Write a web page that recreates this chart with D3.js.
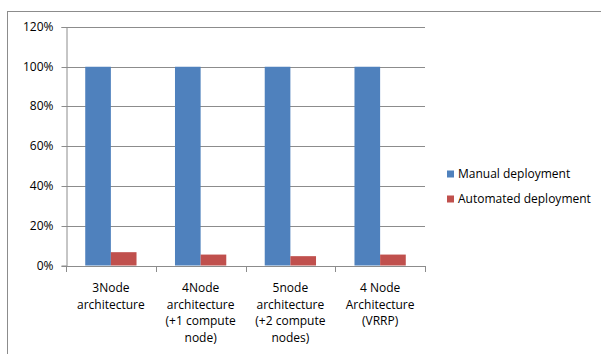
<!DOCTYPE html>
<html>
<head>
<meta charset="utf-8">
<script src="https://cdn.jsdelivr.net/npm/d3@7"></script>
<style>
  body { margin: 0; background: #fff; }
  text { font-family: 'Open Sans', sans-serif; fill: #000; }
</style>
</head>
<body>
<div id="chart"></div>
<script>
const categories = [
  ['3Node', 'architecture'],
  ['4Node', 'architecture', '(+1 compute', 'node)'],
  ['5node', 'architecture', '(+2 compute', 'nodes)'],
  ['4 Node', 'Architecture', '(VRRP)']
]
const seriesNames = ['Manual deployment', 'Automated deployment']
const manual = [1.0, 1.0, 1.0, 1.0]
const automated = [0.067, 0.055, 0.047, 0.055]
const yTicks = [0, 0.2, 0.4, 0.6, 0.8, 1.0, 1.2]

const colors = ['#4f81bd', '#c0504d']
const width = 601
const height = 354
const plot = { left: 66, right: 425, top: 27, bottom: 265.5 }

const svg = d3
  .select('#chart')
  .append('svg')
  .attr('width', width)
  .attr('height', height)

// outer chart border (cropped on right and bottom)
svg
  .append('rect')
  .attr('x', 7.5)
  .attr('y', 11.5)
  .attr('width', 700)
  .attr('height', 500)
  .attr('fill', 'none')
  .attr('stroke', '#8c8c8c')

const y = d3.scaleLinear().domain([0, 1.2]).range([plot.bottom, plot.top])
const x = d3
  .scaleBand()
  .domain(d3.range(categories.length))
  .range([plot.left, plot.right])
  .paddingInner(0)
  .paddingOuter(0)

const barW = x.bandwidth() / 3.5
const offset = barW * 0.75

// gridlines
svg
  .selectAll('.grid')
  .data(yTicks.slice(1))
  .enter()
  .append('line')
  .attr('class', 'grid')
  .attr('x1', plot.left)
  .attr('x2', plot.right)
  .attr('y1', d => Math.round(y(d)) + 0.5)
  .attr('y2', d => Math.round(y(d)) + 0.5)
  .attr('stroke', '#8c8c8c')

// bars
const groups = svg
  .selectAll('.group')
  .data(d3.range(categories.length))
  .enter()
  .append('g')
  .attr('class', 'group')

groups
  .append('rect')
  .attr('x', i => x(i) + offset)
  .attr('y', i => y(manual[i]))
  .attr('width', barW)
  .attr('height', i => y(0) - y(manual[i]))
  .attr('fill', colors[0])

groups
  .append('rect')
  .attr('x', i => x(i) + offset + barW)
  .attr('y', i => y(automated[i]))
  .attr('width', barW)
  .attr('height', i => y(0) - y(automated[i]))
  .attr('fill', colors[1])

// y axis
const yAxis = svg
  .append('g')
  .attr('transform', `translate(${plot.left + 0.5},0)`)
  .call(
    d3
      .axisLeft(y)
      .tickValues(yTicks)
      .tickSize(5)
      .tickPadding(8)
      .tickFormat(d3.format('.0%'))
  )
yAxis.select('.domain').attr('stroke', '#8c8c8c')
yAxis.selectAll('.tick line').attr('stroke', '#8c8c8c')
yAxis
  .selectAll('.tick')
  .attr('transform', d => `translate(0,${Math.round(y(d)) + 0.5})`)
yAxis
  .selectAll('.tick text')
  .style('font-size', '12px')
  .style('font-family', "'Open Sans', sans-serif")
  .attr('fill', '#000')

// x axis baseline and ticks
const xTicks = d3.range(categories.length + 1).map(i => plot.left + i * x.bandwidth())
svg
  .append('line')
  .attr('x1', plot.left)
  .attr('x2', plot.right)
  .attr('y1', Math.round(y(0)) + 0.5)
  .attr('y2', Math.round(y(0)) + 0.5)
  .attr('stroke', '#8c8c8c')
svg
  .selectAll('.xtick')
  .data(xTicks)
  .enter()
  .append('line')
  .attr('class', 'xtick')
  .attr('x1', d => Math.round(d) + 0.5)
  .attr('x2', d => Math.round(d) + 0.5)
  .attr('y1', Math.round(y(0)))
  .attr('y2', Math.round(y(0)) + 6)
  .attr('stroke', '#8c8c8c')

// category labels
svg
  .selectAll('.cat')
  .data(categories)
  .enter()
  .append('text')
  .attr('class', 'cat')
  .attr('text-anchor', 'middle')
  .style('font-size', '12px')
  .each(function(lines, i) {
    d3.select(this)
      .selectAll('tspan')
      .data(lines)
      .enter()
      .append('tspan')
      .attr('x', x(i) + x.bandwidth() / 2)
      .attr('y', (d, j) => 292 + j * 16.7)
      .text(d => d)
  })

// legend
const legend = svg
  .append('g')
  .attr('class', 'legend')
  .attr('transform', 'translate(447,0)')

legend
  .selectAll('.legend-row')
  .data(seriesNames)
  .enter()
  .append('g')
  .attr('class', 'legend-row')
  .attr('transform', (d, i) => `translate(0,${174 + i * 25})`)
  .each(function(d, i) {
    const g = d3.select(this)
    g.append('rect')
      .attr('x', 0)
      .attr('y', -3.5)
      .attr('width', 7)
      .attr('height', 7)
      .attr('fill', colors[i])
    g.append('text')
      .text(d)
      .attr('x', 11)
      .attr('y', 4)
      .style('font-size', '12px')
  })
</script>
</body>
</html>
